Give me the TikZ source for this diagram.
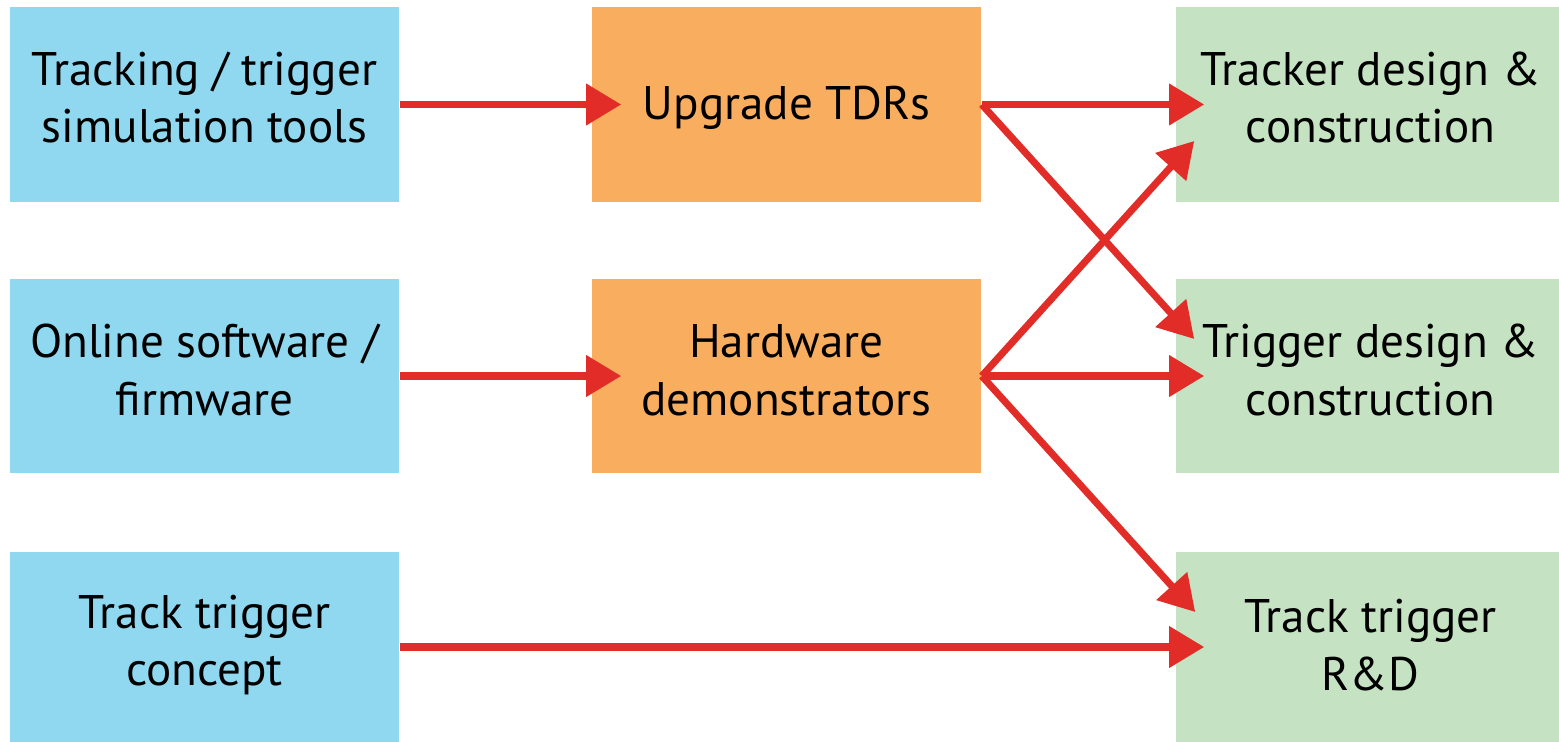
\documentclass[tikz,border=0pt]{standalone}
\usepackage{fontspec}
\setmainfont{PT Sans}
\usetikzlibrary{arrows.meta}
\definecolor{inblue}{RGB}{143,216,240}
\definecolor{midorange}{RGB}{249,174,95}
\definecolor{outgreen}{RGB}{197,226,195}
\definecolor{flowred}{RGB}{225,44,39}
\tikzset{
  txt/.style={align=center, text=black, inner sep=0pt,
    font=\fontsize{13.4}{16.4}\selectfont},
  rtxt/.style={txt, xshift=0.3mm},
  box/.style={rectangle, inner sep=0pt},
  inbox/.style={box, fill=inblue, minimum width=3.89cm},
  midbox/.style={box, fill=midorange, minimum width=3.89cm},
  outbox/.style={box, fill=outgreen, minimum width=3.83cm},
  flow/.style={draw=flowred, line width=2pt,
    -{Triangle[length=3.5mm, width=4mm]}},
}
\begin{document}
\begin{tikzpicture}[x=0.01cm, y=-0.01cm]
  \useasboundingbox (0,0) rectangle (1559,742);

  % input column
  \node[inbox, minimum height=1.95cm,
    label={[txt, yshift=0.7mm]center:{Tracking / trigger\\simulation tools}}]
    (sim) at (204.5,104.5) {};
  \node[inbox, minimum height=1.94cm,
    label={[txt, yshift=0.6mm]center:{Online software /\\firmware}}]
    (online) at (204.5,376) {};
  \node[inbox, minimum height=1.90cm,
    label={[txt, yshift=0.2mm]center:{Track trigger\\concept}}]
    (concept) at (204.5,647) {};

  % intermediate column
  \node[midbox, minimum height=1.95cm,
    label={[txt, yshift=-0.3mm]center:{Upgrade TDRs}}]
    (tdr) at (786.5,104.5) {};
  \node[midbox, minimum height=1.94cm,
    label={[txt, yshift=0.6mm]center:{Hardware\\demonstrators}}]
    (demo) at (786.5,376) {};

  % output column
  \node[outbox, minimum height=1.95cm,
    label={[rtxt, yshift=0.7mm]center:{Tracker design \&\\construction}}]
    (tracker) at (1367.5,104.5) {};
  \node[outbox, minimum height=1.94cm,
    label={[rtxt, yshift=0.6mm]center:{Trigger design \&\\construction}}]
    (trigger) at (1367.5,376) {};
  \node[outbox, minimum height=1.90cm,
    label={[rtxt, yshift=0.2mm]center:{Track trigger\\R\&D}}]
    (rnd) at (1367.5,647) {};

  % connectors
  \draw[flow] (sim.east) -- ([xshift=3mm]tdr.west);
  \draw[flow] (online.east) -- ([xshift=3mm]demo.west);
  \draw[flow] (concept.east) -- ([xshift=2.9mm]rnd.west);

  \draw[flow] (tdr.east) -- ([xshift=2.9mm]tracker.west);
  \draw[flow] (tdr.east) -- ([xshift=1.9mm, yshift=3.7mm]trigger.west);

  \draw[flow] (demo.east) -- ([xshift=1.9mm, yshift=-3.65mm]tracker.west);
  \draw[flow] (demo.east) -- ([xshift=2.9mm]trigger.west);
  \draw[flow] (demo.east) -- ([xshift=2mm, yshift=3.5mm]rnd.west);
\end{tikzpicture}
\end{document}
